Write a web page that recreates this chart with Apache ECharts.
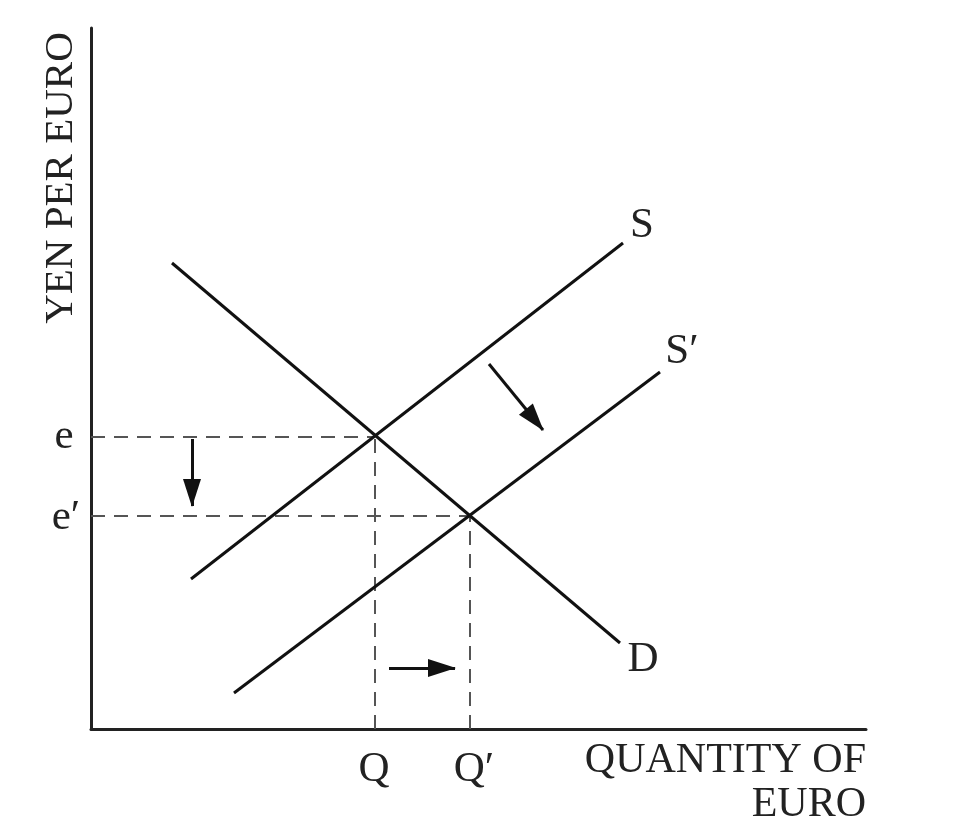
<!DOCTYPE html>
<html>
<head>
<meta charset="utf-8">
<script src="https://cdn.jsdelivr.net/npm/echarts@6/dist/echarts.min.js"></script>
<style>html,body{margin:0;padding:0;background:#fff}#c{width:976px;height:825px}</style>
</head>
<body>
<div id="c"></div>
<script>
// Data (in axis units)
const xMax = 775, yMax = 701;
const demandD = [[81, 466], [529, 86]];
const supplyS = [[100, 150], [532, 486]];
const supplyS2 = [[143, 36], [569, 357]];
const eqPrice = [292, 213];     // e, e′
const eqQty = [284, 379];       // Q, Q′
const shiftArrows = [
  [[101, 290], [101, 223]],
  [[298, 61], [364, 61]],
  [[398, 365], [452, 299]]
];
const curveNames = ['S', 'S′', 'D'];
const priceLabels = ['e', 'e′'];
const qtyLabels = ['Q', 'Q′'];
const yTitle = 'YEN PER EURO';
const xTitle = ['QUANTITY OF', 'EURO'];

const FONT = '"Liberation Serif", "DejaVu Serif", serif';
const chart = echarts.init(document.getElementById('c'), null, {renderer: 'canvas'});

const solid = {color: '#111', width: 3};
const dashed = {color: '#555', width: 2, type: [14, 9]};

const series = [];
[supplyS, supplyS2, demandD].forEach((d, i) => {
  series.push({type: 'line', data: d, symbol: 'none', lineStyle: solid, silent: true, z: 3, animation: false});
});
eqPrice.forEach((p, i) => {
  series.push({type: 'line', data: [[0, p], [eqQty[i], p]], symbol: 'none', lineStyle: dashed, silent: true, z: 2, animation: false});
  series.push({type: 'line', data: [[eqQty[i], 0], [eqQty[i], p]], symbol: 'none', lineStyle: dashed, silent: true, z: 2, animation: false});
});
// square symbol box; arrow head tip sits at the box centre (moveTo points pad the box)
const headPath = 'path://M-27,0 M27,54 M-9,54 L0,26 L9,54 Z';
series.push({
  type: 'lines', coordinateSystem: 'cartesian2d', animation: false, silent: true, z: 4,
  symbol: ['none', headPath], symbolSize: 54,
  lineStyle: {color: '#111', width: 3, opacity: 1},
  itemStyle: {color: '#111'},
  data: shiftArrows.map(c => ({coords: c}))
});

chart.setOption({
  animation: false,
  grid: {left: 91, top: 28, width: 775, height: 701, containLabel: false},
  xAxis: {type: 'value', min: 0, max: xMax, splitLine: {show: false}, axisTick: {show: false}, axisLabel: {show: false},
    axisLine: {show: true, onZero: false, lineStyle: {color: '#222', width: 3}}},
  yAxis: {type: 'value', min: 0, max: yMax, splitLine: {show: false}, axisTick: {show: false}, axisLabel: {show: false},
    axisLine: {show: true, onZero: false, lineStyle: {color: '#222', width: 3}}},
  series: series
});

const px = (pt) => chart.convertToPixel({gridIndex: 0}, pt);
const txt = (s, x, y) => ({
  type: 'text', x: x, y: y, silent: true,
  style: {text: s, font: '43px ' + FONT, fill: '#222', align: 'center', verticalAlign: 'middle'}
});

const g = [];
const ends = [supplyS[1], supplyS2[1], demandD[1]];
const offs = [[19, -17], [22, -20], [23, 17]];
ends.forEach((e, i) => {
  const p = px(e);
  g.push(txt(curveNames[i], p[0] + offs[i][0], p[1] + offs[i][1]));
});
eqPrice.forEach((v, i) => {
  const p = px([0, v]);
  g.push(txt(priceLabels[i], p[0] - 27 + i * 2, p[1] + i * 2));
});
eqQty.forEach((v, i) => {
  const p = px([v, 0]);
  g.push(txt(qtyLabels[i], p[0] - 1 + i * 5, p[1] + 41));
});
const o = px([0, 0]);
const xr = px([xMax, 0]);
g.push({type: 'text', x: xr[0], y: o[1] + 32, silent: true,
  style: {text: xTitle[0], font: '42px ' + FONT, fill: '#222', align: 'right', verticalAlign: 'middle'}});
g.push({type: 'text', x: xr[0], y: o[1] + 76, silent: true,
  style: {text: xTitle[1], font: '42px ' + FONT, fill: '#222', align: 'right', verticalAlign: 'middle'}});
g.push({type: 'text', x: o[0] - 30, y: 178, rotation: Math.PI / 2, silent: true,
  style: {text: yTitle, font: '41px ' + FONT, fill: '#222', align: 'center', verticalAlign: 'middle'}});
chart.setOption({graphic: {elements: g}});
</script>
</body>
</html>
